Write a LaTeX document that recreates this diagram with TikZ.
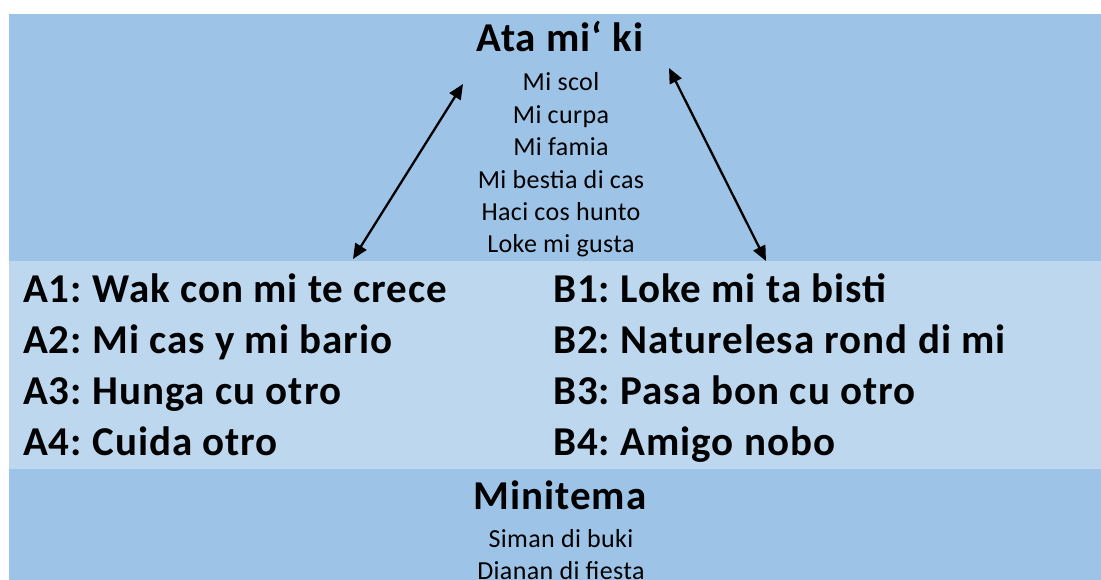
\documentclass[tikz,border=0pt]{standalone}
\usepackage{fontspec}
\setmainfont{Carlito}
\newfontfamily\bigfam[LetterSpace=2.4]{Carlito}
\newfontfamily\smallfam[LetterSpace=1.4]{Carlito}
\usetikzlibrary{arrows.meta}
\definecolor{darkband}{HTML}{9DC3E6}
\definecolor{lightband}{HTML}{BDD7EE}
\begin{document}
\frenchspacing
\begin{tikzpicture}[x=1pt,y=-1pt,
  bigtxt/.style={font=\bigfam\fontsize{41}{46}\selectfont\bfseries, inner sep=0pt, anchor=base},
  itemtxt/.style={font=\bigfam\fontsize{41}{46}\selectfont\bfseries, inner sep=0pt, anchor=base west},
  smalltxt/.style={font=\smallfam\fontsize{26}{30}\selectfont, inner sep=0pt, anchor=base},
  biarrow/.style={line width=2.3pt, {Triangle[length=15pt,width=13pt]}-{Triangle[length=15pt,width=13pt]}}]
\fill[white] (0,0) rectangle (1101,580);
\fill[darkband] (9,14) rectangle (1101,580);
\fill[lightband] (9,261) rectangle (1101,469);
% top block
\node[bigtxt] (title) at (560,52) {Ata mi‘ ki};
\node[smalltxt] (t1) at (561,91) {Mi scol};
\node[smalltxt] (t2) at (561,124) {Mi curpa};
\node[smalltxt] (t3) at (561,156) {Mi famia};
\node[smalltxt] (t4) at (561,189) {Mi bestia di cas};
\node[smalltxt] (t5) at (561,221) {Haci cos hunto};
\node[smalltxt] (t6) at (561,253) {Loke mi gusta};
% items
\node[itemtxt] (a1) at (23,302) {A1: Wak con mi te crece};
\node[itemtxt] (a2) at (23,353) {A2: Mi cas y mi bario};
\node[itemtxt] (a3) at (23,404) {A3: Hunga cu otro};
\node[itemtxt] (a4) at (23,455) {A4: Cuida otro};
\node[itemtxt] (b1) at (553,302) {B1: Loke mi ta bisti};
\node[itemtxt] (b2) at (553,353) {B2: Naturelesa rond di mi};
\node[itemtxt] (b3) at (553,404) {B3: Pasa bon cu otro};
\node[itemtxt] (b4) at (553,455) {B4: Amigo nobo};
% bottom block
\node[bigtxt] (mini) at (560,509) {Minitema};
\node[smalltxt] (m1) at (561,547) {Siman di buki};
\node[smalltxt] (m2) at (561,579) {Dianan di fiesta};
% arrows
\coordinate (la) at (353,259);
\coordinate (lb) at (463,84);
\coordinate (ra) at (669,68);
\coordinate (rb) at (766,261);
\draw[biarrow] (la) -- (lb);
\draw[biarrow] (ra) -- (rb);
\end{tikzpicture}
\end{document}
